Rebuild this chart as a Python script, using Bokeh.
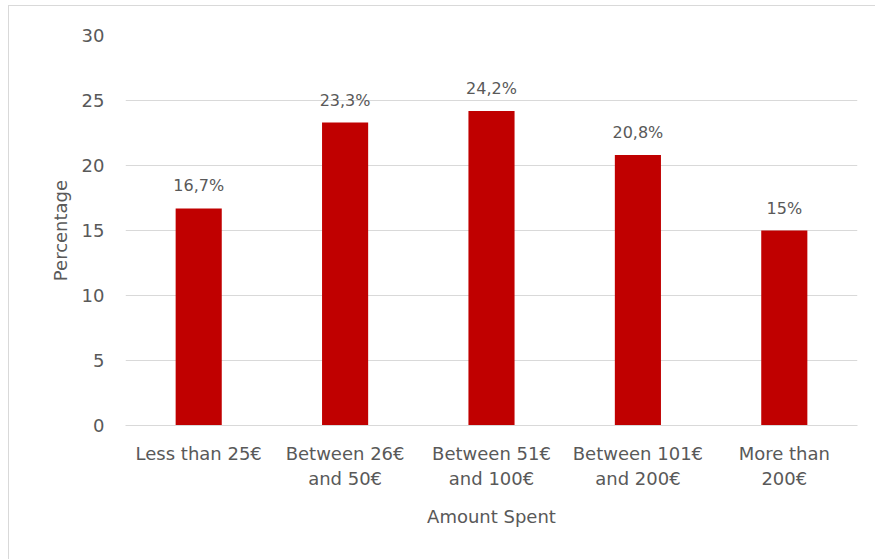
from bokeh.plotting import figure
from bokeh.models import ColumnDataSource, LabelSet, FixedTicker, LinearAxis, Range1d
from bokeh.core.properties import value
from bokeh.embed import file_html
from bokeh.resources import INLINE

# Spending brackets and the share of respondents in each
categories = ["Less than 25€", "Between 26€ and 50€", "Between 51€ and 100€",
              "Between 101€ and 200€", "More than 200€"]
label_line1 = ["Less than 25€", "Between 26€", "Between 51€", "Between 101€", "More than"]
label_line2 = ["", "and 50€", "and 100€", "and 200€", "200€"]
percentages = [16.7, 23.3, 24.2, 20.8, 15.0]
y_ticks = [0, 5, 10, 15, 20, 25, 30]

positions = list(range(len(categories)))


def fmt(v):
    if float(v).is_integer():
        return f"{int(v)}%"
    return f"{v:.1f}".replace(".", ",") + "%"


source = ColumnDataSource(data=dict(
    x=positions,
    cat=categories,
    pct=percentages,
    label=[fmt(v) for v in percentages],
))

FONT = "DejaVu Sans"
GREY = "#595959"
SIZE = "18px"

p = figure(
    x_range=Range1d(-0.5, len(categories) - 0.5), y_range=(0, 30),
    width=867, height=554,
    output_backend="svg", toolbar_location=None,
    min_border_left=116, min_border_right=19,
    min_border_top=29, min_border_bottom=135,
)
p.styles = {"margin-left": "8px", "margin-top": "5px",
            "border-left": "1px solid #d9d9d9", "border-top": "1px solid #d9d9d9"}

p.vbar(x="x", top="pct", width=0.315, source=source,
       fill_color="#C00000", line_color=None)

labels = LabelSet(x="x", y="pct", text="label", source=source,
                  text_align="center", text_baseline="bottom", y_offset=13,
                  text_font=value(FONT), text_font_size=value("16px"),
                  text_color=value(GREY))
p.add_layout(labels)

p.outline_line_color = None
p.background_fill_color = "white"
p.border_fill_color = "white"

p.xgrid.grid_line_color = None
p.ygrid.grid_line_color = "#d9d9d9"
p.ygrid.grid_line_width = 1

yax = p.yaxis[0]
yax.ticker = FixedTicker(ticks=y_ticks)
yax.axis_line_color = None
yax.major_tick_line_color = None
yax.minor_tick_line_color = None
yax.major_label_standoff = 15
yax.major_label_text_font = FONT
yax.major_label_text_font_size = SIZE
yax.major_label_text_color = GREY
yax.axis_label = "Percentage"
yax.axis_label_text_font = FONT
yax.axis_label_text_font_size = SIZE
yax.axis_label_text_font_style = "normal"
yax.axis_label_text_color = GREY
yax.axis_label_standoff = 8

# first line of each category label
xax = p.xaxis[0]
xax.ticker = FixedTicker(ticks=positions)
xax.axis_line_color = "#d9d9d9"
xax.major_tick_line_color = None
xax.minor_tick_line_color = None
xax.major_label_overrides = dict(zip(positions, label_line1))
xax.major_label_standoff = 11
xax.major_label_text_font = FONT
xax.major_label_text_font_size = SIZE
xax.major_label_text_color = GREY

# second line of each category label, plus the axis title
xax2 = LinearAxis(
    ticker=FixedTicker(ticks=positions),
    axis_line_color=None, major_tick_line_color=None, minor_tick_line_color=None,
    major_label_overrides=dict(zip(positions, label_line2)),
    major_label_standoff=-5,
    major_label_text_font=FONT, major_label_text_font_size=SIZE,
    major_label_text_color=GREY,
    axis_label="Amount Spent", axis_label_text_font=FONT,
    axis_label_text_font_size=SIZE, axis_label_text_font_style="normal",
    axis_label_text_color=GREY, axis_label_standoff=14,
)
p.add_layout(xax2, "below")

open("out.html", "w").write(file_html(p, INLINE))
